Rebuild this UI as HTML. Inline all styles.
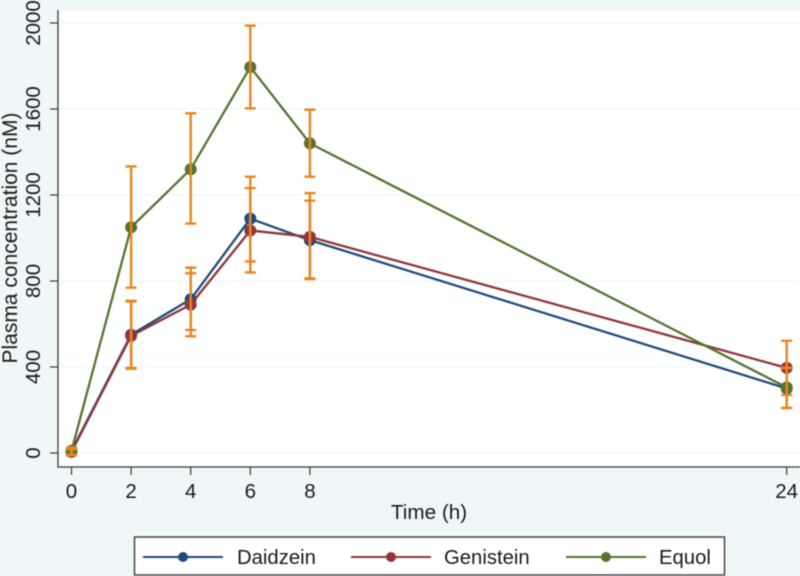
<!DOCTYPE html>
<html>
<head>
<meta charset="utf-8">
<title>Plasma concentration over time</title>
<style>
html,body{margin:0;padding:0;background:#eff7f8;}
#chart{display:block;width:800px;height:576px;filter:blur(0.4px);}
text{font-family:"Liberation Sans",sans-serif;fill:#1a1a1a;}
</style>
</head>
<body>
<svg id="chart" xmlns="http://www.w3.org/2000/svg" width="800" height="576" viewBox="0 0 800 576">
  <rect x="0" y="0" width="800" height="576" fill="#eff7f8"/>
  <rect x="58" y="10" width="742" height="457" fill="#ffffff"/>
  <g id="grid"></g>
  <g id="axes"></g>
  <g id="series"></g>
  <g id="errors"></g>
  <text transform="translate(17,238) rotate(-90)" text-anchor="middle" font-size="21">Plasma concentration (nM)</text>
  <text x="429" y="519" text-anchor="middle" font-size="20.7">Time (h)</text>
  <g>
    <rect x="134.5" y="537" width="590" height="38" fill="#ffffff" stroke="#3a3a3a" stroke-width="1.4"/>
    <g id="legend-items"></g>
  </g>
</svg>
<script>
const times = [0, 2, 4, 6, 8, 24];
const xTicks = [0, 2, 4, 6, 8, 24];
const yTicks = [0, 400, 800, 1200, 1600, 2000];

const daidzein = [10, 550, 715, 1090, 990, 300];
const genistein = [5, 545, 690, 1035, 1005, 396];
const equol = [10, 1050, 1320, 1795, 1440, 305];

const daidzeinUpper = [25, 708, 862, 1285, 1209, 397];
const daidzeinLower = [-8, 392, 572, 891, 809, 209];
const genisteinUpper = [18, 705, 836, 1232, 1174, 522];
const genisteinLower = [-10, 396, 543, 840, 812, 270];
const equolUpper = [25, 1333, 1580, 1988, 1597, 395];
const equolLower = [-8, 769, 1067, 1603, 1285, 210];

const seriesNames = ['Daidzein', 'Genistein', 'Equol'];
const seriesColors = ['#1f4a7d', '#90353b', '#55752f'];

function xScale(t) { return 71.5 + t * 29.8; }
function yScale(v) { return 453 - v * 0.215; }

const NS = 'http://www.w3.org/2000/svg';
function mk(tag, parent, props) {
  const el = document.createElementNS(NS, tag);
  for (const k in props) el.setAttribute(k, props[k]);
  parent.appendChild(el);
  return el;
}

const grid = document.getElementById('grid');
const axes = document.getElementById('axes');
const seriesG = document.getElementById('series');
const errorsG = document.getElementById('errors');
const legendG = document.getElementById('legend-items');

yTicks.forEach(function (v) {
  const gl = mk('line', grid, {x1: 58, x2: 800, y1: yScale(v), y2: yScale(v), stroke: '#eff7f8', 'stroke-width': 1.2});
  
  
  const tk = mk('line', axes, {x1: 50, x2: 58, y1: yScale(v), y2: yScale(v), stroke: '#3a3a3a', 'stroke-width': 1.2});
  
  
  const lb = mk('text', axes, {transform: 'translate(40,' + yScale(v) + ') rotate(-90)', 'text-anchor': 'middle', 'font-size': 20.5});
  
  
  lb.textContent = v;
});

xTicks.forEach(function (t) {
  const tk = mk('line', axes, {x1: xScale(t), x2: xScale(t), y1: 467, y2: 475, stroke: '#3a3a3a', 'stroke-width': 1.2});
  
  
  const lb = mk('text', axes, {x: xScale(t), y: 498, 'text-anchor': 'middle', 'font-size': 20.5});
  
  
  lb.textContent = t;
});

const yAxisLine = mk('line', axes, {x1: 58, x2: 58, y1: 10, y2: 467.6, stroke: '#3a3a3a', 'stroke-width': 1.3});


const xAxisLine = mk('line', axes, {x1: 58, x2: 800, y1: 467, y2: 467, stroke: '#3a3a3a', 'stroke-width': 1.3});



function drawSeries(values, color, name) {
  const pts = values.map(function (v, i) { return xScale(times[i]) + ',' + yScale(v); }).join(' ');
  const line = mk('polyline', seriesG, {points: pts, fill: 'none', stroke: color, 'stroke-width': 2.3});
  
  
  values.forEach(function (v, i) {
    const p = mk('circle', seriesG, {cx: xScale(times[i]), cy: yScale(v), r: 6, fill: color});
    
    
  });
}
drawSeries(daidzein, seriesColors[0], 'daidzein');
drawSeries(genistein, seriesColors[1], 'genistein');
drawSeries(equol, seriesColors[2], 'equol');

function drawErrors(upper, lower, name) {
  upper.forEach(function (u, i) {
    const x = xScale(times[i]);
    const st = {stroke: '#ea8420', 'stroke-width': 2.4};
    const stem = mk('line', errorsG, Object.assign({x1: x, x2: x, y1: yScale(u), y2: yScale(lower[i])}, st));
    
    
    const capU = mk('line', errorsG, Object.assign({x1: x - 5.5, x2: x + 5.5, y1: yScale(u), y2: yScale(u)}, st));
    
    
    const capL = mk('line', errorsG, Object.assign({x1: x - 5.5, x2: x + 5.5, y1: yScale(lower[i]), y2: yScale(lower[i])}, st));
    
    
  });
}
drawErrors(daidzeinUpper, daidzeinLower, 'daidzein');
drawErrors(genisteinUpper, genisteinLower, 'genistein');
drawErrors(equolUpper, equolLower, 'equol');

const legendLineX = [143, 351, 566];
const legendTextX = [237, 444, 659];
seriesNames.forEach(function (n, i) {
  const l = mk('line', legendG, {x1: legendLineX[i], x2: legendLineX[i] + 80, y1: 557, y2: 557, stroke: seriesColors[i], 'stroke-width': 2});
  
  
  const c = mk('circle', legendG, {cx: legendLineX[i] + 40, cy: 557, r: 5, fill: seriesColors[i]});
  
  
  const t = mk('text', legendG, {x: legendTextX[i], y: 564, 'font-size': 20.3});
  
  
  t.textContent = n;
});
</script>
</body>
</html>
